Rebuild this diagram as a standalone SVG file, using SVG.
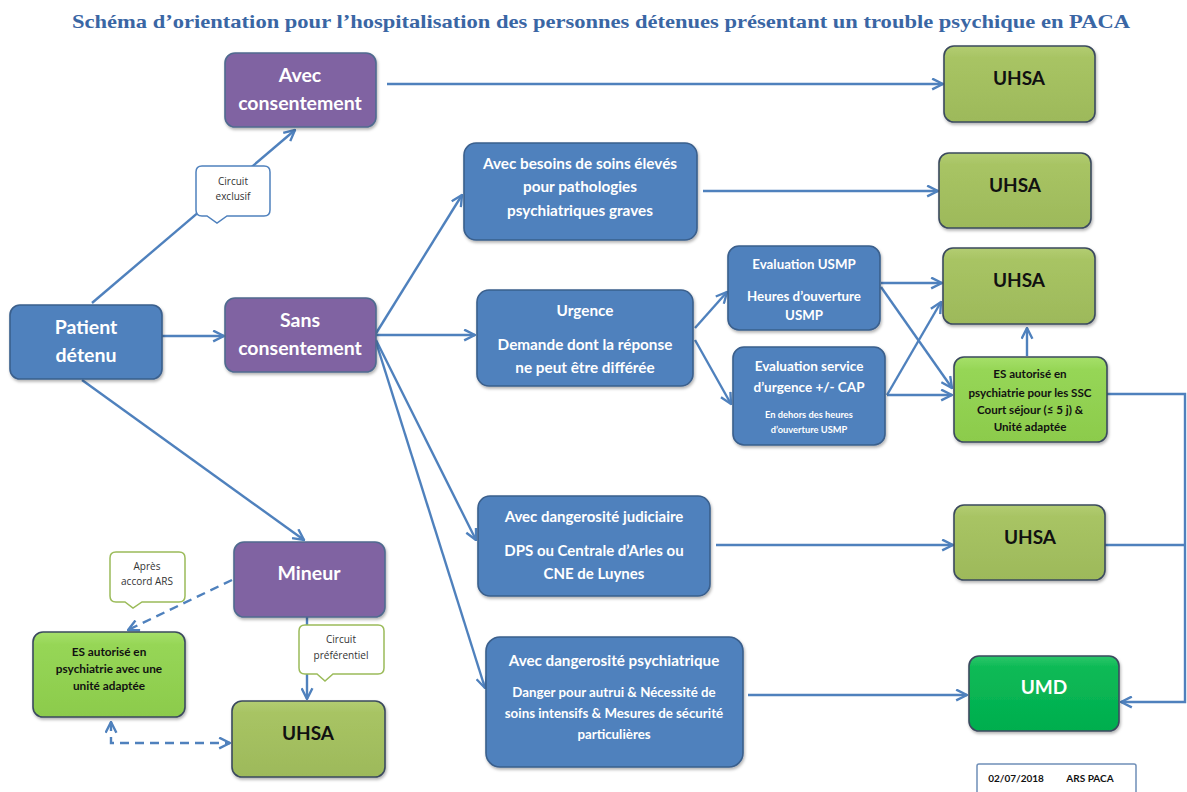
<svg xmlns="http://www.w3.org/2000/svg" width="1187" height="792" viewBox="0 0 1187 792">
<style>
.title{font-family:"Liberation Serif","DejaVu Serif",serif;font-weight:bold;font-size:19px;fill:#3A66A4}
.box{stroke-width:1.6}
.b{fill:#4F81BD;stroke:#3A5F8C}
.p{fill:#8064A2;stroke:#4F6A8F}
.o{fill:url(#gO);stroke:#3B4A5E}
.lg{fill:url(#gL);stroke:#3B4A5E}
.um{fill:url(#gU);stroke:#3B4A5E}
.t{font-family:Lato,"Open Sans","Liberation Sans",sans-serif;font-weight:bold;text-anchor:middle}
.w{fill:#FFFFFF}
.k{fill:#111111}
.call{fill:#FFFFFF;stroke-width:1.5}
.cb{stroke:#4F81BD}
.cg{stroke:#9BBB59}
.ct{font-family:"Open Sans",Lato,"Liberation Sans",sans-serif;font-size:10px;fill:#333333;text-anchor:middle}
.c{stroke:#4F81BD;stroke-width:2.4;fill:none}
.d{stroke-dasharray:9,6}
</style>
<defs>
<marker id="ar" viewBox="0 0 12 12" refX="11" refY="6" markerWidth="13" markerHeight="13" markerUnits="userSpaceOnUse" orient="auto-start-reverse">
<path d="M1,1 L11,6 L1,11" fill="none" stroke="#4F81BD" stroke-width="2.2" stroke-linejoin="miter"/>
</marker>
<linearGradient id="gO" x1="0" y1="0" x2="0" y2="1">
<stop offset="0" stop-color="#B3CD72"/><stop offset="0.15" stop-color="#A8C464"/><stop offset="1" stop-color="#9DB95A"/>
</linearGradient>
<linearGradient id="gL" x1="0" y1="0" x2="0" y2="1">
<stop offset="0" stop-color="#A6E06A"/><stop offset="0.15" stop-color="#96D656"/><stop offset="1" stop-color="#8CCB4C"/>
</linearGradient>
<linearGradient id="gU" x1="0" y1="0" x2="0" y2="1">
<stop offset="0" stop-color="#2CC76A"/><stop offset="0.15" stop-color="#0DBA56"/><stop offset="1" stop-color="#00AE4E"/>
</linearGradient>
<filter id="sh" x="-10%" y="-10%" width="120%" height="130%">
<feDropShadow dx="1" dy="2" stdDeviation="1.5" flood-color="#000" flood-opacity="0.3"/>
</filter>
</defs>

<text class="title" x="601" y="28" textLength="1058" lengthAdjust="spacingAndGlyphs" text-anchor="middle">Schéma d’orientation pour l’hospitalisation des personnes détenues présentant un trouble psychique en PACA</text>

<g id="connectors">
<line class="c" x1="92" y1="303" x2="295" y2="130" marker-end="url(#ar)"/>
<line class="c" x1="162" y1="336" x2="224" y2="336" marker-end="url(#ar)"/>
<line class="c" x1="82" y1="380" x2="304" y2="540" marker-end="url(#ar)"/>
<line class="c" x1="387" y1="84" x2="943" y2="84" marker-end="url(#ar)"/>
<line class="c" x1="375" y1="335" x2="462" y2="195" marker-end="url(#ar)"/>
<line class="c" x1="375" y1="335" x2="475" y2="335" marker-end="url(#ar)"/>
<line class="c" x1="376" y1="340" x2="476" y2="540" marker-end="url(#ar)"/>
<line class="c" x1="376" y1="342" x2="485" y2="688" marker-end="url(#ar)"/>
<line class="c" x1="703" y1="191" x2="938" y2="191" marker-end="url(#ar)"/>
<line class="c" x1="695" y1="328" x2="727" y2="292" marker-end="url(#ar)"/>
<line class="c" x1="695" y1="340" x2="731" y2="404" marker-end="url(#ar)"/>
<line class="c" x1="881" y1="283" x2="942" y2="283" marker-end="url(#ar)"/>
<line class="c" x1="881" y1="287" x2="952" y2="388" marker-end="url(#ar)"/>
<line class="c" x1="887" y1="395" x2="952" y2="395" marker-end="url(#ar)"/>
<line class="c" x1="887" y1="395" x2="941" y2="302" marker-end="url(#ar)"/>
<line class="c" x1="1027" y1="356" x2="1027" y2="328" marker-end="url(#ar)"/>
<polyline class="c" points="1107,394 1185,394 1185,702 1121,702" marker-end="url(#ar)"/>
<line class="c" x1="1105" y1="545" x2="1185" y2="545"/>
<line class="c" x1="716" y1="545" x2="953" y2="545" marker-end="url(#ar)"/>
<line class="c" x1="748" y1="695" x2="967" y2="695" marker-end="url(#ar)"/>
<line class="c" x1="307" y1="617" x2="307" y2="699" marker-end="url(#ar)"/>
<line class="c d" x1="232" y1="580" x2="128" y2="630" marker-end="url(#ar)"/>
<polyline class="c d" points="111,722 111,743 230,743" marker-start="url(#ar)" marker-end="url(#ar)"/>
</g>

<g id="avec-consentement">
<rect class="box p" x="225" y="53" width="151" height="74" rx="10" filter="url(#sh)"/>
<text class="t w" x="300" y="82" font-size="19.5">Avec</text>
<text class="t w" x="300" y="110" font-size="19.5">consentement</text>
</g>

<g id="callout-circuit-exclusif">
<path class="call cb" d="M202,166 H264 Q270,166 270,172 V210 Q270,216 264,216 H227 L217,223 L207,216 H202 Q196,216 196,210 V172 Q196,166 202,166 Z"/>
<text class="ct" x="233" y="185">Circuit</text>
<text class="ct" x="233" y="200">exclusif</text>
</g>

<g id="patient-detenu">
<rect class="box b" x="10" y="305" width="152" height="74" rx="10" filter="url(#sh)"/>
<text class="t w" x="86" y="334" font-size="19.5">Patient</text>
<text class="t w" x="86" y="362" font-size="19.5">détenu</text>
</g>

<g id="sans-consentement">
<rect class="box p" x="225" y="298" width="151" height="74" rx="10" filter="url(#sh)"/>
<text class="t w" x="300" y="327" font-size="19.5">Sans</text>
<text class="t w" x="300" y="355" font-size="19.5">consentement</text>
</g>

<g id="mineur">
<rect class="box p" x="234" y="542" width="151" height="75" rx="10" filter="url(#sh)"/>
<text class="t w" x="309" y="580" font-size="19.5">Mineur</text>
</g>

<g id="callout-apres-accord">
<path class="call cg" d="M116,552 H179 Q185,552 185,558 V596 Q185,602 179,602 H142 L133,608 L125,602 H116 Q110,602 110,596 V558 Q110,552 116,552 Z"/>
<text class="ct" x="147" y="570">Après</text>
<text class="ct" x="147" y="585">accord ARS</text>
</g>

<g id="es-unite-adaptee">
<rect class="box lg" x="33" y="632" width="152" height="85" rx="10" filter="url(#sh)"/>
<text class="t k" x="109" y="656" font-size="11.8">ES autorisé en</text>
<text class="t k" x="109" y="673" font-size="11.8">psychiatrie avec une</text>
<text class="t k" x="109" y="690" font-size="11.8">unité adaptée</text>
</g>

<g id="callout-circuit-preferentiel">
<path class="call cg" d="M305,625 H378 Q384,625 384,631 V668 Q384,674 378,674 H333 L325,681 L317,674 H305 Q299,674 299,668 V631 Q299,625 305,625 Z"/>
<text class="ct" x="341" y="643">Circuit</text>
<text class="ct" x="341" y="659">préférentiel</text>
</g>

<g id="uhsa-mineur">
<rect class="box o" x="232" y="701" width="153" height="76" rx="10" filter="url(#sh)"/>
<text class="t k" x="308" y="740" font-size="19">UHSA</text>
</g>

<g id="besoins-soins">
<rect class="box b" x="464" y="143" width="233" height="97" rx="12" filter="url(#sh)"/>
<text class="t w" x="580" y="169" font-size="15.3">Avec besoins de soins élevés</text>
<text class="t w" x="580" y="192" font-size="15.3">pour pathologies</text>
<text class="t w" x="580" y="216" font-size="15.3">psychiatriques graves</text>
</g>

<g id="urgence">
<rect class="box b" x="477" y="290" width="216" height="96" rx="12" filter="url(#sh)"/>
<text class="t w" x="585" y="316" font-size="15.3">Urgence</text>
<text class="t w" x="585" y="350" font-size="15.3">Demande dont la réponse</text>
<text class="t w" x="585" y="373" font-size="15.3">ne peut être différée</text>
</g>

<g id="evaluation-usmp">
<rect class="box b" x="728" y="246" width="152" height="84" rx="11" filter="url(#sh)"/>
<text class="t w" x="804" y="269" font-size="13.3">Evaluation USMP</text>
<text class="t w" x="804" y="301" font-size="13.3">Heures d’ouverture</text>
<text class="t w" x="804" y="320" font-size="13.3">USMP</text>
</g>

<g id="evaluation-service">
<rect class="box b" x="733" y="347" width="152" height="98" rx="11" filter="url(#sh)"/>
<text class="t w" x="809" y="371" font-size="13.5">Evaluation service</text>
<text class="t w" x="809" y="392" font-size="13.5">d’urgence +/- CAP</text>
<text class="t w" x="809" y="418" font-size="9.3">En dehors des heures</text>
<text class="t w" x="809" y="433" font-size="9.3">d’ouverture USMP</text>
</g>

<g id="uhsa-1">
<rect class="box o" x="944" y="46" width="151" height="76" rx="10" filter="url(#sh)"/>
<text class="t k" x="1019" y="85" font-size="19">UHSA</text>
</g>

<g id="uhsa-2">
<rect class="box o" x="939" y="153" width="152" height="75" rx="10" filter="url(#sh)"/>
<text class="t k" x="1015" y="192" font-size="19">UHSA</text>
</g>

<g id="uhsa-3">
<rect class="box o" x="943" y="248" width="152" height="76" rx="10" filter="url(#sh)"/>
<text class="t k" x="1019" y="287" font-size="19">UHSA</text>
</g>

<g id="es-ssc">
<rect class="box lg" x="954" y="357" width="153" height="85" rx="10" filter="url(#sh)"/>
<text class="t k" x="1030" y="378" font-size="11.6">ES autorisé en</text>
<text class="t k" x="1030" y="397" font-size="11.6">psychiatrie pour les SSC</text>
<text class="t k" x="1030" y="414" font-size="11.6">Court séjour (≤ 5 j)  &amp;</text>
<text class="t k" x="1030" y="431" font-size="11.6">Unité adaptée</text>
</g>

<g id="dangerosite-judiciaire">
<rect class="box b" x="478" y="496" width="232" height="100" rx="12" filter="url(#sh)"/>
<text class="t w" x="594" y="522" font-size="15">Avec dangerosité judiciaire</text>
<text class="t w" x="594" y="556" font-size="15">DPS ou Centrale d’Arles ou</text>
<text class="t w" x="594" y="579" font-size="15">CNE de Luynes</text>
</g>

<g id="uhsa-4">
<rect class="box o" x="954" y="505" width="151" height="75" rx="10" filter="url(#sh)"/>
<text class="t k" x="1030" y="544" font-size="19">UHSA</text>
</g>

<g id="dangerosite-psychiatrique">
<rect class="box b" x="486" y="637" width="257" height="130" rx="14" filter="url(#sh)"/>
<text class="t w" x="614" y="666" font-size="15.2">Avec dangerosité psychiatrique</text>
<text class="t w" x="614" y="697" font-size="13.3">Danger pour autrui &amp; Nécessité de</text>
<text class="t w" x="614" y="718" font-size="13.3">soins intensifs &amp; Mesures de sécurité</text>
<text class="t w" x="614" y="739" font-size="13.3">particulières</text>
</g>

<g id="umd">
<rect class="box um" x="969" y="656" width="150" height="75" rx="10" filter="url(#sh)"/>
<text class="t w" x="1044" y="694" font-size="19">UMD</text>
</g>

<g id="footer">
<rect x="977" y="764" width="159" height="40" fill="#FFFFFF" stroke="#6F8FB8" stroke-width="1.5" rx="2"/>
<text class="t k" x="1016" y="782" font-size="10">02/07/2018</text>
<text class="t k" x="1090" y="782" font-size="10">ARS PACA</text>
</g>
</svg>
